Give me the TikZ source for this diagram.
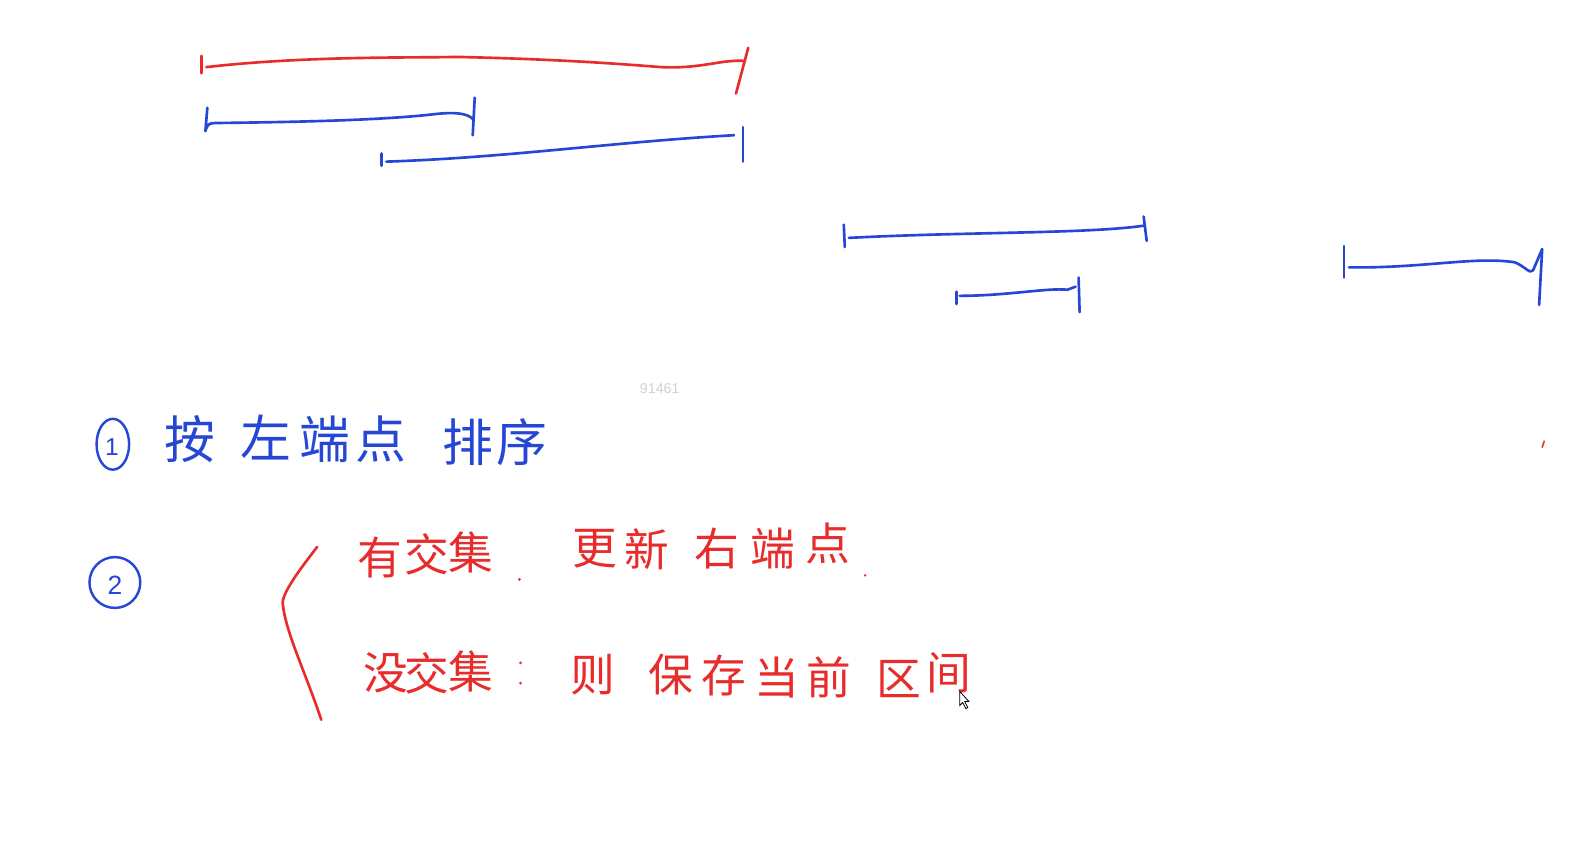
\documentclass[tikz,border=0pt]{standalone}
\usepackage{fontspec}
\newfontfamily\cjk{Noto Sans CJK SC}
\definecolor{penblue}{RGB}{38,70,214}
\definecolor{penred}{RGB}{232,44,44}
\begin{document}
\begin{tikzpicture}[x=1pt,y=-1pt,
  bl/.style={draw=penblue,line width=2.6pt,line cap=round,line join=round},
  rd/.style={draw=penred,line width=2.6pt,line cap=round,line join=round},
  bch/.style={text=penblue,font=\cjk\fontsize{50}{50}\selectfont,inner sep=0pt},
  rch/.style={text=penred,font=\cjk\fontsize{44}{44}\selectfont,inner sep=0pt}]
\useasboundingbox[fill=white] (0,0) rectangle (1568,839);
% red interval
\draw[rd] (198,55) -- (198,72);
\draw[rd] (203,66) .. controls (300,55) and (400,57) .. (450,56)
  .. controls (540,58) and (600,62) .. (650,66) .. controls (690,68) and (710,58) .. (733,60);
\draw[rd] (736,47) -- (724,92);
% blue A
\draw[bl] (204,106) -- (202,129) .. controls (204,122) and (206,121) .. (212,121)
  .. controls (300,120) and (380,118) .. (430,112) .. controls (450,110) and (460,112) .. (465,117);
\draw[bl] (467,96) -- (465,133);
% blue B
\draw[bl] (375,151) -- (375,163);
\draw[bl] (380,159) .. controls (500,155) and (600,140) .. (722,133);
\draw[bl] (731,125) -- (731,159);
% blue C
\draw[bl] (830,221) -- (831,243);
\draw[bl] (835,234) .. controls (950,228) and (1070,230) .. (1125,222);
\draw[bl] (1125,213) -- (1128,237);
% blue D
\draw[bl] (941,287) -- (941,299);
\draw[bl] (944,291) .. controls (990,291) and (1030,283) .. (1050,285) -- (1058,282);
\draw[bl] (1061,273) -- (1062,307);
% blue E
\draw[bl] (1322,242) -- (1322,273);
\draw[bl] (1327,263) .. controls (1400,264) and (1450,252) .. (1490,258)
  .. controls (1500,262) and (1505,270) .. (1508,266) -- (1517,245);
\draw[bl] (1517,245) -- (1514,300);
% tiny red mark
\draw[rd,line width=1.6pt] (1519,434) -- (1517,440);
% watermark
\node[text=black!18,font=\fontspec{Liberation Sans}\fontsize{14}{14}\selectfont] (wm) at (649,382) {91461};
% item 1
\draw[bl,line width=2.4pt] (111,437) ellipse [x radius=16, y radius=25];
\node[text=penblue,font=\fontspec{Liberation Sans}\fontsize{24}{24}\selectfont] (n1) at (110,440) {1};
\node[bch] (c1) at (187,432) {按};
\node[bch] (c2) at (262,430) {左};
\node[bch] (c3) at (320,432) {端};
\node[bch] (c4) at (375,432) {点};
\node[bch] (c5) at (460,435) {排};
\node[bch] (c6) at (513,435) {序};
% item 2
\draw[bl,line width=2.4pt] (113,573) circle [radius=25];
\node[text=penblue,font=\fontspec{Liberation Sans}\fontsize{26}{26}\selectfont] (n2) at (113,576) {2};
% brace
\draw[rd] (312,538) .. controls (295,560) and (280,580) .. (278,592)
  .. controls (280,620) and (300,660) .. (316,708);
% line 1
\node[rch] (r1) at (374,548) {有};
\node[rch] (r2) at (420,545) {交};
\node[rch] (r3) at (463,543) {集};
\fill[penred] (511,570) circle [radius=1.5];
\node[rch] (r4) at (585,540) {更};
\node[rch] (r5) at (636,540) {新};
\node[rch] (r6) at (705,540) {右};
\node[rch] (r7) at (760,540) {端};
\node[rch] (r8) at (814,535) {点};
\fill[penred] (851,566) circle [radius=1.3];
% line 2
\node[rch] (s1) at (380,662) {没};
\node[rch] (s2) at (420,662) {交};
\node[rch] (s3) at (463,660) {集};
\fill[penred] (512,652) circle [radius=1.5];
\fill[penred] (512,672) circle [radius=1.5];
\node[rch] (s4) at (583,664) {则};
\node[rch] (s5) at (660,664) {保};
\node[rch] (s6) at (712,664) {存};
\node[rch] (s7) at (764,666) {当};
\node[rch] (s8) at (815,666) {前};
\node[rch] (s9) at (884,668) {区};
\node[rch] (s10) at (933,662) {间};
% cursor
\draw[black,fill=white,line width=0.8pt] (944,680) -- (944,694) -- (947,691) -- (950,697) -- (952,696) -- (949,690) -- (953,690) -- cycle;
\end{tikzpicture}
\end{document}
